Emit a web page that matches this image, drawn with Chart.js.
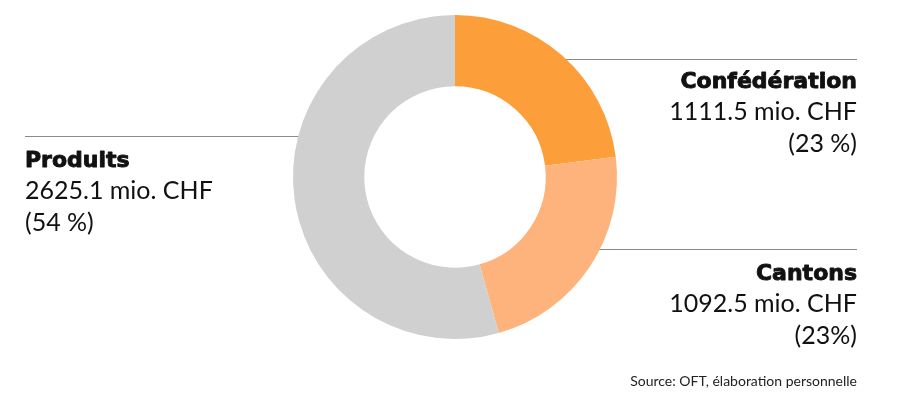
<!DOCTYPE html>
<html lang="fr">
<head>
  <meta charset="UTF-8" />
  <title>Répartition</title>
  <script src="https://cdn.jsdelivr.net/npm/chart.js"></script>
  <style>
    html, body { margin: 0; padding: 0; background: #fff; }
    #wrap { width: 900px; height: 410px; position: relative; }
  </style>
</head>
<body>
  <div id="wrap"><canvas id="donut" width="900" height="410"></canvas></div>
  <script>
    // data
    const categories = ['Confédération', 'Cantons', 'Produits'];
    const amounts = [1111.5, 1092.5, 2625.1];
    const amountLabels = ['1111.5 mio. CHF', '1092.5 mio. CHF', '2625.1 mio. CHF'];
    const shareLabels = ['(23\u202f%)', '(23%)', '(54\u202f%)'];
    const colors = ['#FC9F3A', '#FDB37B', '#D0D0D0'];
    const sourceText = 'Source: OFT, élaboration personnelle';

    // where each label block sits
    const callouts = [
      { align: 'right', x: 857, y: 88, lineY: 59, lineFrom: 540, lineTo: 857 },
      { align: 'right', x: 857, y: 280, lineY: 249, lineFrom: 580, lineTo: 857 },
      { align: 'left', x: 25, y: 167, lineY: 136, lineFrom: 25, lineTo: 330 }
    ];

    const calloutPlugin = {
      id: 'callouts',
      beforeDatasetsDraw(chart) {
        const ctx = chart.ctx;
        ctx.save();
        ctx.strokeStyle = '#8a8a8a';
        ctx.lineWidth = 1;
        callouts.forEach(c => {
          ctx.beginPath();
          ctx.moveTo(c.lineFrom, c.lineY + 0.5);
          ctx.lineTo(c.lineTo, c.lineY + 0.5);
          ctx.stroke();
        });
        ctx.restore();
      },
      afterDraw(chart) {
        const ctx = chart.ctx;
        ctx.save();
        ctx.fillStyle = '#111';
        ctx.strokeStyle = '#111';
        ctx.lineWidth = 0.9;
        ctx.lineJoin = 'round';
        ctx.textBaseline = 'alphabetic';
        callouts.forEach((c, i) => {
          ctx.textAlign = c.align;
          ctx.font = 'bold 22px "DejaVu Sans"';
          ctx.fillText(categories[i], c.x, c.y);
          ctx.strokeText(categories[i], c.x, c.y); // a bit heavier, like the black cut
          ctx.font = '400 25px Lato';
          ctx.fillText(amountLabels[i], c.x, c.y + 32);
          ctx.fillText(shareLabels[i], c.x, c.y + 64);
        });
        ctx.textAlign = 'right';
        ctx.font = '400 14px Lato';
        ctx.fillStyle = '#222';
        ctx.fillText(sourceText, 857, 386);
        ctx.restore();
      }
    };

    new Chart(document.getElementById('donut'), {
      type: 'doughnut',
      data: {
        labels: categories,
        datasets: [{
          data: amounts,
          backgroundColor: colors,
          borderWidth: 0
        }]
      },
      options: {
        responsive: false,
        animation: false,
        cutout: '56%',
        layout: { padding: { top: 15, bottom: 71, left: 10, right: 0 } },
        plugins: {
          legend: { display: false },
          tooltip: { enabled: false }
        }
      },
      plugins: [calloutPlugin]
    });
  </script>
</body>
</html>
